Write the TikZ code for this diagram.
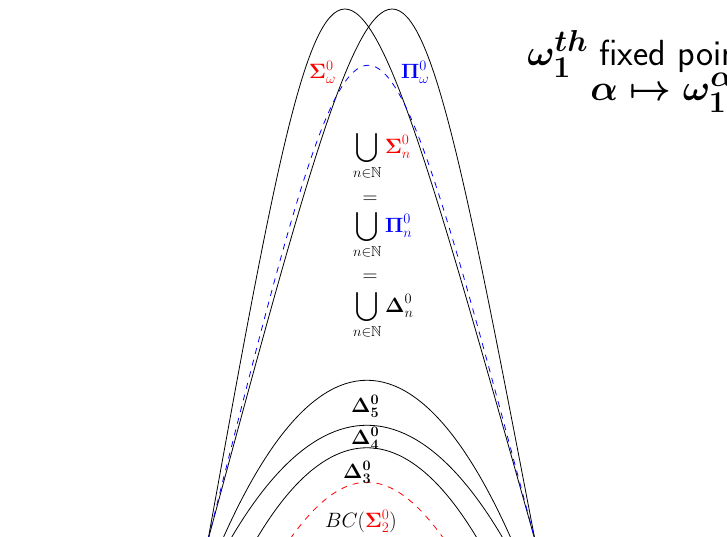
\documentclass[tikz,border=0pt]{standalone}
\usepackage{amsmath,amssymb}
\begin{document}
\begin{tikzpicture}[x=1pt,y=-1pt,
  arch/.style={line width=0.8pt},
  bluedash/.style={blue,line width=0.8pt,dash pattern=on 6pt off 6pt},
  reddash/.style={red,line width=0.8pt,dash pattern=on 6pt off 6pt},
  lbl/.style={inner sep=0pt,font=\huge},
  rtxt/.style={inner sep=0pt,font=\Huge\sffamily\boldmath,scale=1.46,transform shape}]
\useasboundingbox (0,0) rectangle (727,536);
% outer arches
\draw[arch] (208,540) .. controls (336,-168) .. (535,540);
\draw[arch] (208,540) .. controls (399,-168) .. (535,540);
\draw[bluedash] (208,540) .. controls (367,-93) .. (535,540);
% Delta arches
\draw[arch] (198,600) .. controls (307,307) and (427,307) .. (536,600);
\draw[arch] (199,600) .. controls (307,367) and (427,367) .. (535,600);
\draw[arch] (225,600) .. controls (317,397) and (417,397) .. (509,600);
\draw[reddash] (253,600) .. controls (337,443) and (397,443) .. (481,600);
% labels
\node[lbl,anchor=base west,red] (sw) at (309,78) {$\mathbf{\Sigma}^0_\omega$};
\node[lbl,anchor=base west,blue] (pw) at (401,78) {$\mathbf{\Pi}^0_\omega$};
\node[lbl,anchor=base west] (u1) at (353,153) {$\displaystyle\bigcup_{n\in\mathbb{N}}\textcolor{red}{\mathbf{\Sigma}^0_n}$};
\node[lbl,anchor=base] (e1) at (370,203) {$=$};
\node[lbl,anchor=base west] (u2) at (353,232) {$\displaystyle\bigcup_{n\in\mathbb{N}}\textcolor{blue}{\mathbf{\Pi}^0_n}$};
\node[lbl,anchor=base] (e2) at (370,281) {$=$};
\node[lbl,anchor=base west] (u3) at (353,312) {$\displaystyle\bigcup_{n\in\mathbb{N}}\mathbf{\Delta}^0_n$};
\node[lbl,anchor=base west] (d5) at (351,412) {$\mathbf{\Delta^0_5}$};
\node[lbl,anchor=base west] (d4) at (351,444) {$\mathbf{\Delta^0_4}$};
\node[lbl,anchor=base west] (d3) at (343,478) {$\mathbf{\Delta^0_3}$};
\node[lbl,anchor=base west] (bc) at (325,527) {$BC(\textcolor{red}{\mathbf{\Sigma}^0_2})$};
% right text
\node[rtxt,anchor=base west] (t1) at (527,65) {$\omega_1^{th}$ fixed point};
\node[rtxt,anchor=base west] (t2) at (590,100) {$\alpha\mapsto\omega_1^{\alpha}$};
\end{tikzpicture}
\end{document}
